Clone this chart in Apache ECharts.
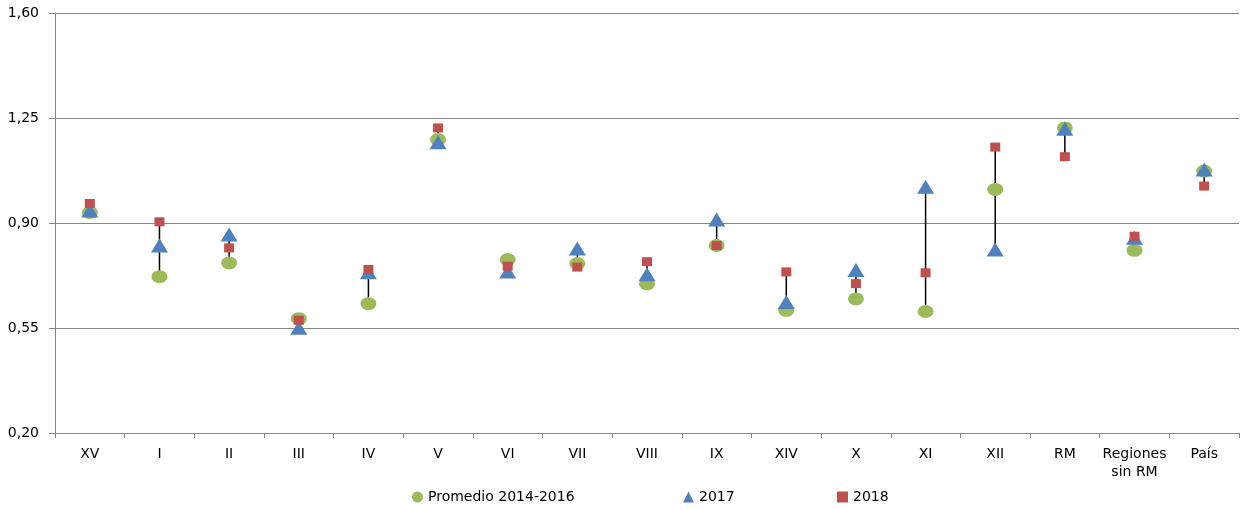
<!DOCTYPE html>
<html><head><meta charset="utf-8">
<script src="https://cdn.jsdelivr.net/npm/echarts@6/dist/echarts.min.js"></script>
<style>html,body{margin:0;padding:0;background:#fff}#c{width:1241px;height:510px}</style>
</head><body><div id="c"></div>
<script>
const categories = ['XV','I','II','III','IV','V','VI','VII','VIII','IX','XIV','X','XI','XII','RM','Regiones sin RM','País'];
const promedio = [0.935,0.721,0.767,0.581,0.631,1.178,0.778,0.765,0.697,0.825,0.609,0.647,0.605,1.012,1.217,0.809,1.073];
const y2017 = [0.942,0.825,0.862,0.551,0.736,1.169,0.738,0.815,0.729,0.912,0.637,0.743,1.021,0.812,1.214,0.851,1.078];
const y2018 = [0.965,0.904,0.817,0.576,0.745,1.217,0.756,0.753,0.771,0.825,0.737,0.698,0.734,1.153,1.121,0.856,1.023];
const yTicks = [0.20,0.55,0.90,1.25,1.60];

const hiLo = categories.map((c,i)=>{
  const v=[promedio[i],y2017[i],y2018[i]];
  return [i, Math.min(...v), Math.max(...v)];
});
const font = 'DejaVu Sans';
const chart = echarts.init(document.getElementById('c'));
const legendBase = {bottom: 1, itemWidth: 11, itemHeight: 11, itemGap: 4,
  textStyle:{fontFamily:font,fontSize:14,color:'#000'}};
chart.setOption({
  animation:false,
  grid:{left:55,right:2,top:13,bottom:77},
  legend:[
    Object.assign({left:407, data:[{name:'Promedio 2014-2016',icon:'circle'}]},legendBase),
    Object.assign({left:678, data:[{name:'2017',icon:'triangle'}]},legendBase),
    Object.assign({left:832, data:[{name:'2018',icon:'rect'}]},legendBase)
  ],
  xAxis:{type:'category',data:categories,boundaryGap:true,
    axisLine:{lineStyle:{color:'#868686',width:1}},
    axisTick:{show:true,alignWithLabel:false,length:5,lineStyle:{color:'#868686'}},
    axisLabel:{fontFamily:font,fontSize:14,color:'#000',margin:12,interval:0,lineHeight:18,
      formatter:v=>v.replace('Regiones sin RM','Regiones\nsin RM')}},
  yAxis:{type:'value',min:yTicks[0],max:yTicks[yTicks.length-1],interval:0.35,
    axisLine:{show:true,lineStyle:{color:'#868686',width:1}},
    axisTick:{show:true,length:6,lineStyle:{color:'#868686'}},
    splitLine:{lineStyle:{color:'#868686',width:1}},
    axisLabel:{fontFamily:font,fontSize:14,color:'#000',margin:16,
      formatter:v=>v.toFixed(2).replace('.',',')}},
  series:[
    {type:'custom',name:'hilo',z:1,silent:true,
      encode:{x:0,y:[1,2]},data:hiLo,
      renderItem:(params,api)=>{
        const a=api.coord([api.value(0),api.value(1)]);
        const b=api.coord([api.value(0),api.value(2)]);
        return {type:'line',shape:{x1:a[0],y1:a[1],x2:b[0],y2:b[1]},style:{stroke:'#000',lineWidth:1.5}};
      }},
    {type:'scatter',name:'Promedio 2014-2016',z:2,data:promedio,symbol:'circle',symbolSize:[16,13],
      itemStyle:{color:'#9BBB59',opacity:1}},
    {type:'scatter',name:'2017',z:3,data:y2017,symbol:'triangle',symbolSize:[17,14],
      itemStyle:{color:'#4F81BD',opacity:1}},
    {type:'scatter',name:'2018',z:4,data:y2018,symbol:'rect',symbolSize:[10,9],
      itemStyle:{color:'#C0504D',opacity:1}}
  ]
});
</script></body></html>
